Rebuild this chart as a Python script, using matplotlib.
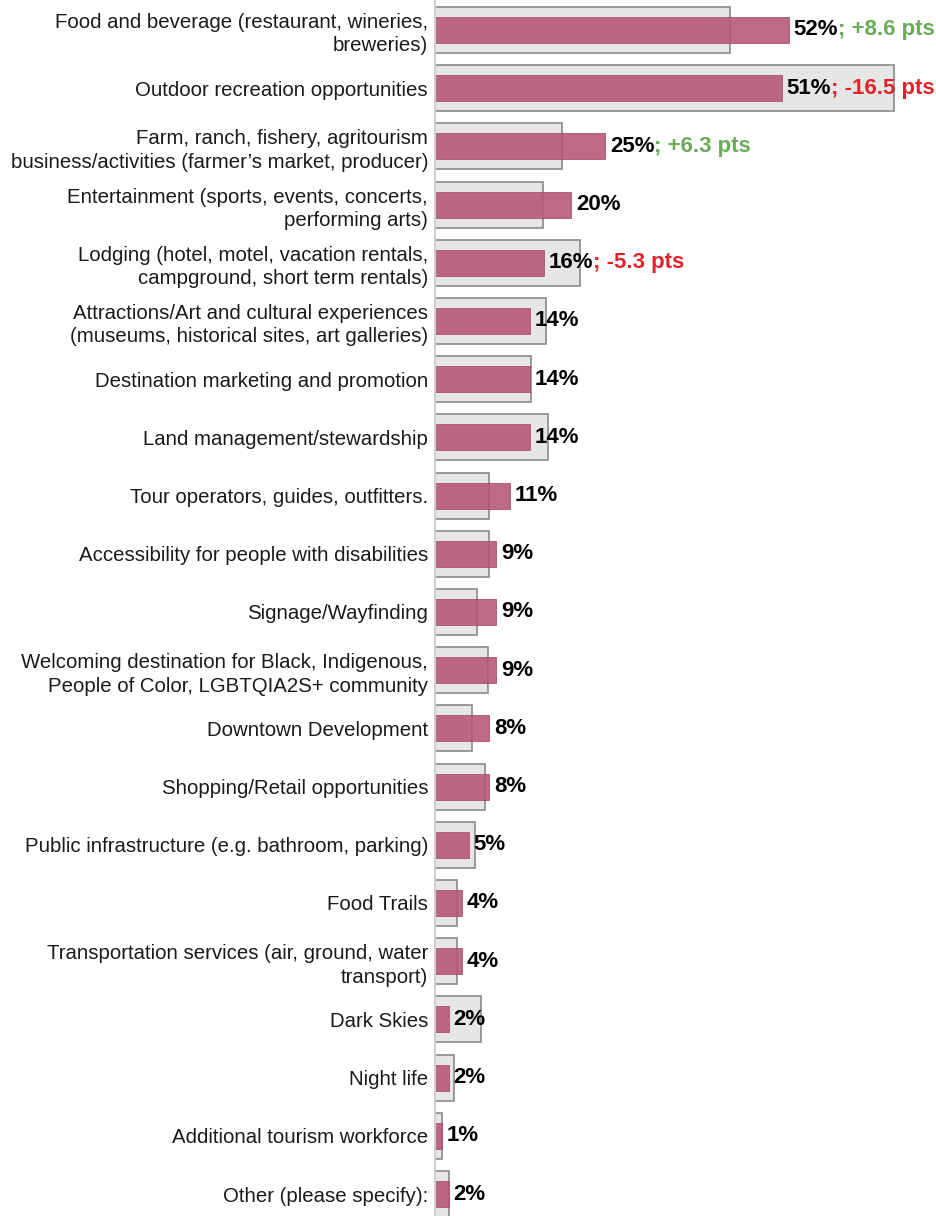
import matplotlib.pyplot as plt

plt.rcParams["font.family"] = ["Liberation Sans", "DejaVu Sans"]

categories = [
    "Food and beverage (restaurant, wineries,\nbreweries)",
    "Outdoor recreation opportunities",
    "Farm, ranch, fishery, agritourism\nbusiness/activities (farmer\u2019s market, producer)",
    "Entertainment (sports, events, concerts,\nperforming arts)",
    "Lodging (hotel, motel, vacation rentals,\ncampground, short term rentals)",
    "Attractions/Art and cultural experiences\n(museums, historical sites, art galleries)",
    "Destination marketing and promotion",
    "Land management/stewardship",
    "Tour operators, guides, outfitters.",
    "Accessibility for people with disabilities",
    "Signage/Wayfinding",
    "Welcoming destination for Black, Indigenous,\nPeople of Color, LGBTQIA2S+ community",
    "Downtown Development",
    "Shopping/Retail opportunities",
    "Public infrastructure (e.g. bathroom, parking)",
    "Food Trails",
    "Transportation services (air, ground, water\ntransport)",
    "Dark Skies",
    "Night life",
    "Additional tourism workforce",
    "Other (please specify):",
]
current = [52, 51, 25, 20, 16, 14, 14, 14, 11, 9, 9, 9, 8, 8, 5, 4, 4, 2, 2, 1, 2]
previous = [43.4, 67.5, 18.7, 15.9, 21.3, 16.3, 14.1, 16.6, 7.9, 7.9, 6.2, 7.8,
            5.5, 7.4, 5.9, 3.2, 3.2, 6.8, 2.8, 1.0, 2.1]
change = [8.6, -16.5, 6.3, None, -5.3, None, None, None, None, None, None, None,
          None, None, None, None, None, None, None, None, None]

pink = "#b8577a"
green = "#6aaa58"
red = "#e0232b"

fig = plt.figure(figsize=(9.36, 12.16), dpi=100)
ax = fig.add_axes([435 / 936, 0, 1 - 435 / 936, 1])

ypos = list(range(len(categories)))
ax.barh(ypos, previous, height=0.79, color="#e6e6e6", edgecolor="#8a8a8a",
        linewidth=1.2, zorder=1)
ax.barh(ypos, current, height=0.45, color=pink, alpha=0.9,
        edgecolor="#a04868", linewidth=0.6, zorder=2)

for y, v, d in zip(ypos, current, change):
    t = ax.text(v + 0.7, y, f"{v}%", va="center", ha="left", fontsize=16,
                fontweight="bold", color="black", zorder=3)
    if d is not None:
        ax.annotate(f"; {d:+.1f} pts", xy=(1, 0.5), xycoords=t,
                    va="center", ha="left", fontsize=16, fontweight="bold",
                    color=green if d > 0 else red, zorder=3)

ax.set_xlim(0, (936 - 435) / 6.8)
ax.set_ylim((1216 - 30) / 58.2, -30 / 58.2)
ax.set_yticks(ypos)
ax.set_yticklabels(categories, fontsize=14.7, color="#1a1a1a", ha="right",
                   linespacing=1.3)
ax.tick_params(axis="y", length=0, pad=5)
ax.set_xticks([])
for side in ["top", "right", "bottom"]:
    ax.spines[side].set_visible(False)
ax.spines["left"].set_color("#d0d0d0")
ax.spines["left"].set_linewidth(1.5)
ax.patch.set_alpha(0)

fig.savefig("out.png", dpi=100)
